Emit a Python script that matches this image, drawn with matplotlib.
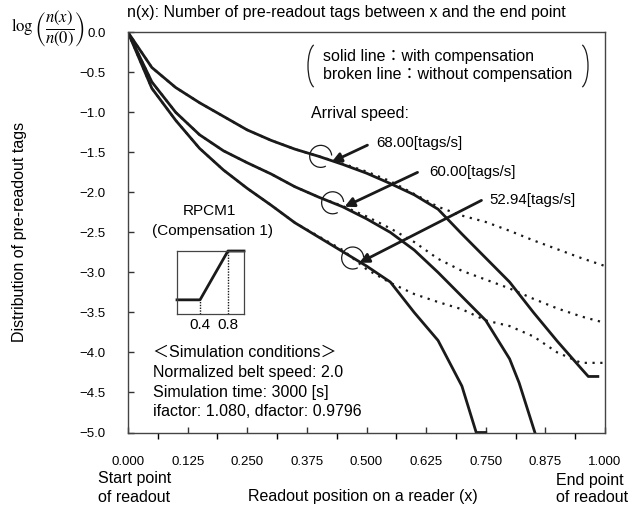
import numpy as np
import matplotlib.pyplot as plt
from matplotlib.patches import Arc
from matplotlib.ticker import MultipleLocator

plt.rcParams['font.family'] = ['Liberation Sans', 'Noto Sans CJK JP', 'DejaVu Sans']
plt.rcParams['mathtext.fontset'] = 'stix'

# solid lines: with compensation
x_68 = [0, 0.05, 0.1, 0.15, 0.2, 0.25, 0.3, 0.35, 0.4, 0.45, 0.5, 0.55, 0.6, 0.65,
        0.7, 0.75, 0.8, 0.85, 0.9, 0.95, 0.965, 0.985]
y_68 = [0, -0.44, -0.69, -0.88, -1.05, -1.22, -1.35, -1.46, -1.55, -1.65, -1.76, -1.89,
        -2.03, -2.21, -2.52, -2.82, -3.12, -3.5, -3.86, -4.2, -4.3, -4.3]
x_60 = [0, 0.05, 0.1, 0.15, 0.2, 0.25, 0.3, 0.35, 0.4, 0.45, 0.5, 0.55, 0.6, 0.65,
        0.7, 0.75, 0.8, 0.82, 0.853]
y_60 = [0, -0.62, -1.0, -1.28, -1.48, -1.63, -1.77, -1.93, -2.06, -2.18, -2.33, -2.5,
        -2.72, -3.0, -3.3, -3.6, -4.08, -4.38, -5.0]
x_53 = [0, 0.05, 0.1, 0.15, 0.2, 0.25, 0.3, 0.35, 0.4, 0.45, 0.5, 0.55, 0.6, 0.65,
        0.7, 0.73, 0.75]
y_53 = [0, -0.7, -1.1, -1.45, -1.72, -1.95, -2.16, -2.38, -2.56, -2.74, -2.92, -3.12,
        -3.5, -3.85, -4.42, -5.0, -5.0]

# broken lines: without compensation
x_dot = [0, 0.05, 0.1, 0.15, 0.2, 0.25, 0.3, 0.35, 0.4, 0.45, 0.5, 0.55, 0.6, 0.65,
         0.7, 0.75, 0.8, 0.85, 0.9, 0.95, 1.0]
d_68 = [0, -0.44, -0.69, -0.88, -1.05, -1.22, -1.35, -1.46, -1.55, -1.64, -1.74, -1.86,
        -2.02, -2.18, -2.29, -2.37, -2.48, -2.6, -2.71, -2.82, -2.92]
d_60 = [0, -0.62, -1.0, -1.28, -1.48, -1.63, -1.77, -1.93, -2.06, -2.17, -2.3, -2.45,
        -2.62, -2.83, -2.98, -3.09, -3.2, -3.33, -3.45, -3.55, -3.63]
d_53 = [0, -0.7, -1.1, -1.45, -1.72, -1.95, -2.16, -2.38, -2.55, -2.72, -2.96, -3.13,
        -3.27, -3.37, -3.46, -3.6, -3.67, -3.8, -4.0, -4.13, -4.13]

speeds = ['68.00[tags/s]', '60.00[tags/s]', '52.94[tags/s]']
# circle marks on the curves, arrow tips, arrow tails, label anchors
circ_pts = [(0.404, -1.55), (0.429, -2.13), (0.471, -2.82)]
tip_pts = [(0.427, -1.62), (0.454, -2.18), (0.485, -2.88)]
tail_pts = [(0.502, -1.41), (0.607, -1.75), (0.741, -2.1)]
label_pts = [(0.521, -1.38), (0.632, -1.75), (0.757, -2.10)]

# RPCM1 compensation shape
comp_x = [0.07, 0.4, 0.8, 1.03]
comp_y = [0, 0, 1, 1]

W, H = 631, 513
fig = plt.figure(figsize=(W / 100, H / 100), dpi=100)
ax = fig.add_axes([128 / W, 1 - 432.5 / H, 477 / W, 400.2 / H])

lc = '#1a1a1a'
for xs, ys in [(x_68, y_68), (x_60, y_60), (x_53, y_53)]:
    ax.plot(xs, ys, color=lc, lw=2.0)
for ds in [d_68, d_60, d_53]:
    ax.plot(x_dot, ds, color=lc, lw=1.6, linestyle=(0, (1, 2.5)))

ax.set_xlim(0, 1)
ax.set_ylim(-5, 0)
ax.xaxis.set_major_locator(MultipleLocator(0.125))
ax.xaxis.set_minor_locator(MultipleLocator(0.0625))
ax.yaxis.set_major_locator(MultipleLocator(0.5))
ax.xaxis.set_major_formatter(lambda v, p: f'{v:.3f}')
ax.yaxis.set_major_formatter(lambda v, p: f'{v:.1f}'.replace('-', '\u2212'))
ax.tick_params(direction='in', length=4, width=1, color='#333333', labelsize=9.5)
ax.tick_params(axis='x', which='both', pad=17)
ax.tick_params(axis='x', which='minor', length=4, width=1)
ax.tick_params(axis='y', pad=16)
for s in ax.spines.values():
    s.set_color('#444444')
    s.set_linewidth(1.0)

# circles and arrows
px_x, px_y = 1 / 477, 5 / 400.2
for (cx, cy), tip, tail, lab, sp in zip(circ_pts, tip_pts, tail_pts, label_pts, speeds):
    ax.add_patch(Arc((cx, cy), 22 * px_x, 22 * px_y, theta1=25, theta2=275,
                     color=lc, lw=0.9))
    ax.annotate('', xy=tip, xytext=tail,
                arrowprops=dict(arrowstyle='-|>', lw=2.0, color=lc, mutation_scale=14,
                                shrinkA=0, shrinkB=0))
    ax.text(lab[0], lab[1], sp, fontsize=10.8, va='center', ha='left')

ax.text(0.383, -1.02, 'Arrival speed:', fontsize=11.5, va='center', ha='left')

# bracket legend
fig.text(323 / W, 1 - 57 / H, 'solid line\uff1awith compensation', fontsize=11.5,
         va='center', ha='left')
fig.text(323 / W, 1 - 74 / H, 'broken line\uff1awithout compensation', fontsize=11.5,
         va='center', ha='left')
for bx, t1, t2 in [(316, 95, 265), (580, -85, 85)]:
    fig.add_artist(Arc((bx / W, 1 - 66 / H), 16 / W, 44 / H, theta1=t1, theta2=t2,
                       transform=fig.transFigure, color=lc, lw=0.9))

# simulation conditions
cond = ['\uff1cSimulation conditions\uff1e', 'Normalized belt speed: 2.0',
        'Simulation time: 3000 [s]', 'ifactor: 1.080, dfactor: 0.9796']
for i, c in enumerate(cond):
    fig.text(153 / W, 1 - (352 + 20 * i) / H, c, fontsize=11.5, va='center', ha='left')

# RPCM1 inset
fig.text(209 / W, 1 - 211 / H, 'RPCM1', fontsize=11, va='center', ha='center')
fig.text(212 / W, 1 - 231 / H, '(Compensation 1)', fontsize=11, va='center', ha='center')
iax = fig.add_axes([177 / W, 1 - 314 / H, 67 / W, 63 / H])
iax.plot(comp_x, comp_y, color=lc, lw=2.0, clip_on=False)
iax.plot([0.4, 0.4], [-0.29, 0], color=lc, lw=1.0, linestyle=(0, (1, 1)))
iax.plot([0.8, 0.8], [-0.29, 1], color=lc, lw=1.0, linestyle=(0, (1, 1)))
iax.set_xlim(0.07, 1.03)
iax.set_ylim(-0.29, 1.0)
iax.set_xticks([0.4, 0.8])
iax.set_xticklabels(['0.4', '0.8'])
iax.set_yticks([])
iax.tick_params(axis='x', length=0, labelsize=11, pad=3)
for s in iax.spines.values():
    s.set_color('#444444')
    s.set_linewidth(0.9)

# outer texts
fig.text(127 / W, 1 - 13 / H, 'n(x): Number of pre-readout tags between x and the end point',
         fontsize=11.5, va='center', ha='left')
fig.text(48 / W, 1 - 29 / H, r'$\log\left(\dfrac{n(x)}{n(0)}\right)$', fontsize=12,
         va='center', ha='center')
fig.text(20 / W, 1 - 232 / H, 'Distribution of pre-readout tags', fontsize=11.5,
         rotation=90, va='center', ha='center')
fig.text(363 / W, 1 - 497 / H, 'Readout position on a reader (x)', fontsize=11.5,
         va='center', ha='center')
fig.text(98 / W, 1 - 478 / H, 'Start point', fontsize=11.5, va='center', ha='left')
fig.text(98 / W, 1 - 497 / H, 'of readout', fontsize=11.5, va='center', ha='left')
fig.text(556 / W, 1 - 480 / H, 'End point', fontsize=11.5, va='center', ha='left')
fig.text(556 / W, 1 - 498 / H, 'of readout', fontsize=11.5, va='center', ha='left')

fig.savefig('out.png', dpi=100)
